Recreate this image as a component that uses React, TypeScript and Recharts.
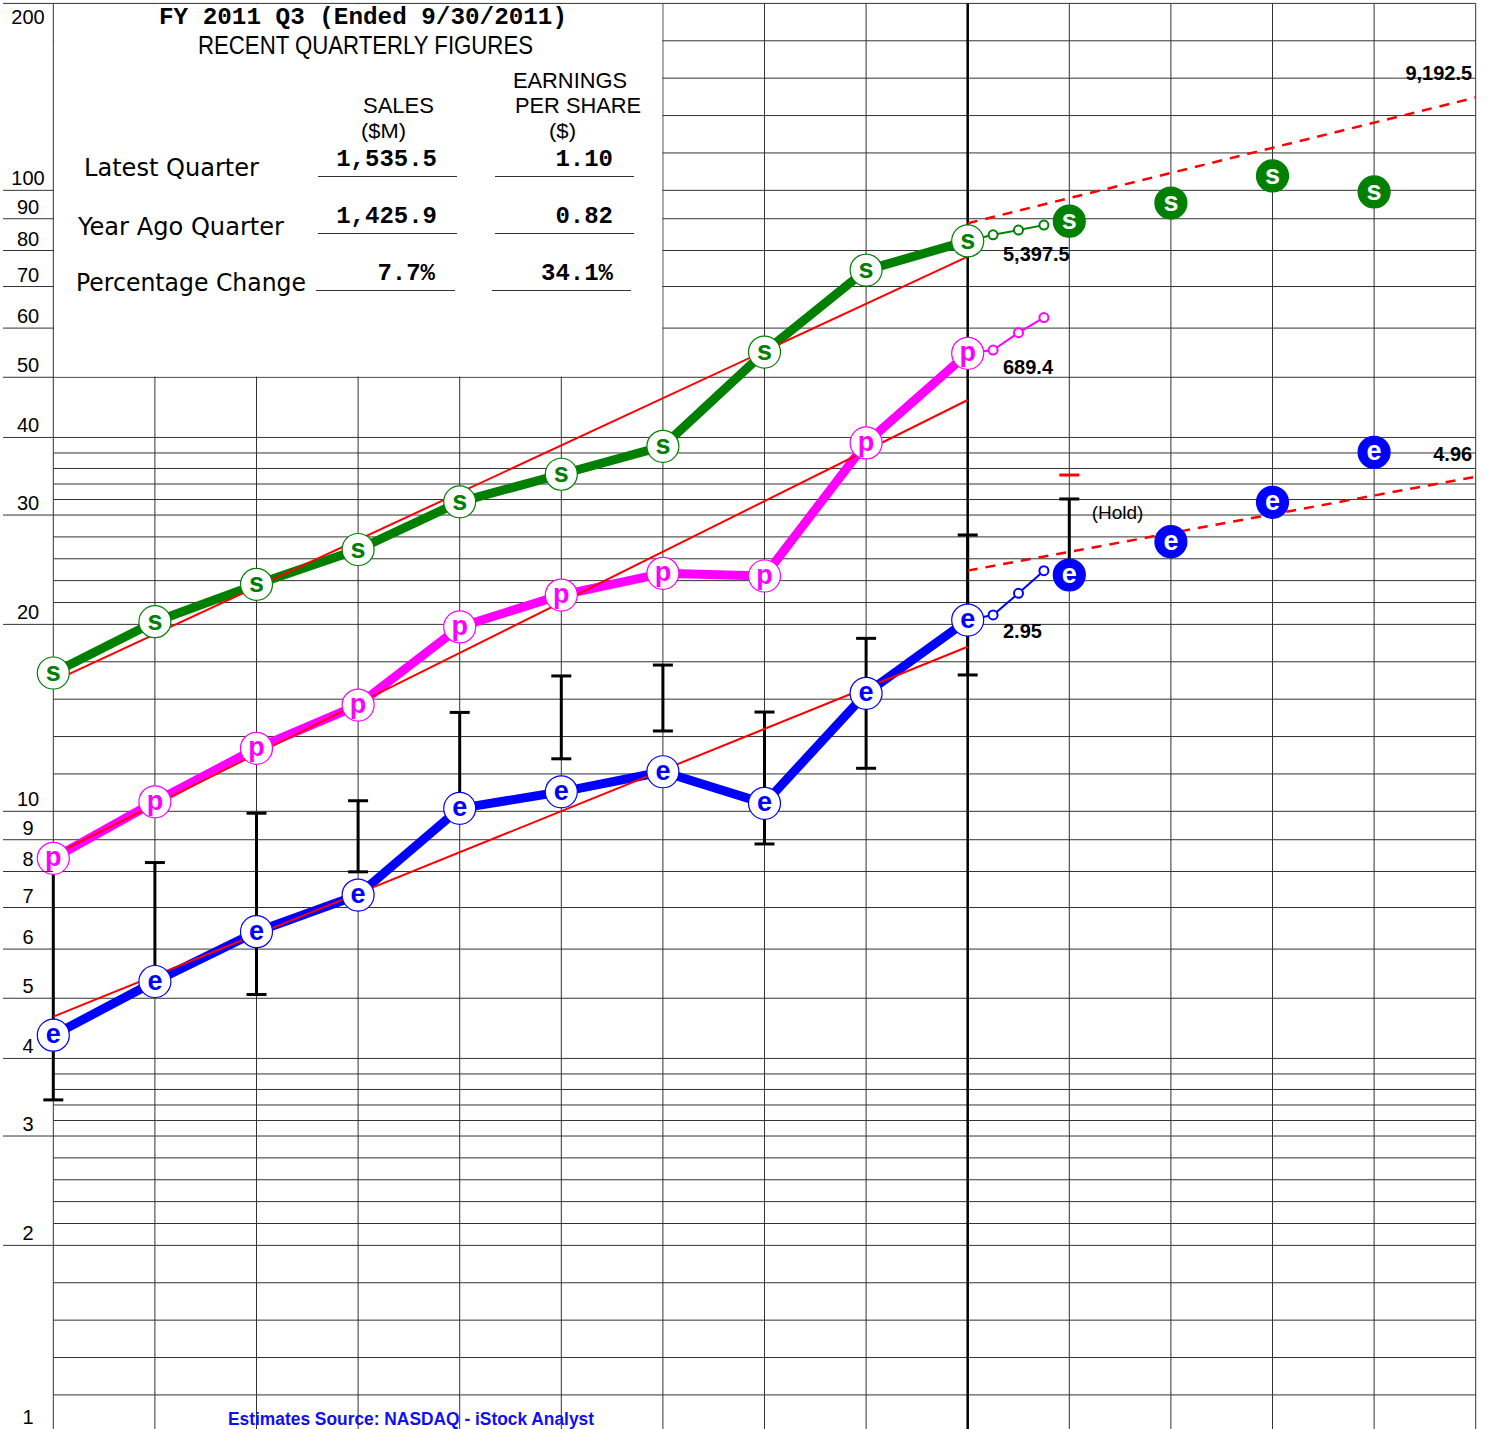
import React from 'react';
import { ComposedChart, Line, XAxis, YAxis, CartesianGrid, ErrorBar } from 'recharts';

// ---------- data ----------
const HIST_X = [0, 1, 2, 3, 4, 5, 6, 7, 8, 9];
const PROJ_X = [9, 9.25, 9.5, 9.75];
const FUT_X = [10, 11, 12, 13];
const EST_X = [0, 1, 2, 3, 4, 5, 6, 7, 8, 9, 10];

const salesHist = [16.7, 20.2, 23.2, 26.4, 31.5, 34.9, 38.7, 54.9, 74.4, 82.9];
const salesProj = [82.9, 84.8, 86.3, 87.9];
const salesFut = [89.2, 95.4, 105.5, 99.4];

const profitHist = [8.4, 10.36, 12.63, 14.83, 19.81, 22.3, 24.17, 23.93, 39.19, 54.64];
const profitProj = [54.64, 55.3, 59.0, 62.4];

const epsHist = [4.36, 5.32, 6.4, 7.33, 10.11, 10.75, 11.58, 10.3, 15.49, 20.32];
const epsProj = [20.32, 20.71, 22.44, 24.41];
const epsFut = [24.02, 27.18, 31.45, 37.85];

const estHigh = [8.4, 8.27, 9.93, 10.4, 14.43, 16.52, 17.2, 14.45, 18.99, 27.86, 31.84];
const estLow = [3.43, 5.32, 5.07, 7.99, 10.11, 12.15, 13.47, 8.86, 11.73, 16.58, 24.02];
const holdMark = [{ x: 10, y: 34.8 }];

const TREND_X = [0, 9];
const PROJ_TREND_X = [9, 14];
const salesTrend = [16.19, 78.2];
const salesTrendProj = [88.5, 141.1];
const profitTrend = [8.5, 45.96];
const epsTrend = [4.67, 18.41];
const epsTrendProj = [24.41, 34.58];

const Y_TICKS = [200, 100, 90, 80, 70, 60, 50, 40, 30, 20, 10, 9, 8, 7, 6, 5, 4, 3, 2, 1];
const GRID_BASE = [1, 1.1487, 1.3195, 1.5157, 1.7411, 2, 2.1689, 2.3522, 2.5509, 2.7663, 3, 3.1777, 3.3659, 3.5652, 3.7763, 4, 5, 6, 7, 8, 9];
const DECADES = [1, 10, 100];
const X_GRID = [0, 1, 2, 3, 4, 5, 6, 7, 8, 9, 10, 11, 12, 13, 14];

const ANNOTATIONS = [
  { x: 9.347, y: 79.0, text: '5,397.5', anchor: 'start', bold: true },
  { x: 9.347, y: 51.9, text: '689.4', anchor: 'start', bold: true },
  { x: 9.347, y: 19.5, text: '2.95', anchor: 'start', bold: true },
  { x: 10.22, y: 30.3, text: '(Hold)', anchor: 'start', bold: false },
  { x: 13.965, y: 154.5, text: '9,192.5', anchor: 'end', bold: true },
  { x: 13.965, y: 37.6, text: '4.96', anchor: 'end', bold: true },
];

// ---------- helpers ----------
const zipXY = (xs: number[], ys: number[]) => ys.map((y, i) => ({ x: xs[i], y }));
const GRID_VALUES = DECADES.flatMap((d) => GRID_BASE.map((b) => +(b * d).toFixed(4))).filter((v) => v <= 200);
const errData = EST_X.map((x, i) => ({ x, lo: estLow[i], err: [0, estHigh[i] - estLow[i]] }));
const vLine = [{ x: 9, y: 1 }, { x: 9, y: 200 }];

const GREEN = '#008000';
const PINK = '#ff00ff';
const BLUE = '#0000ff';
const RED = '#ff0000';
const SANS = "'Liberation Sans', Arial, Helvetica, sans-serif";
const NARROW = "'Liberation Sans Narrow', 'Liberation Sans', Arial, sans-serif";
const MONO = "'Liberation Mono', 'Courier New', monospace";
const HUMAN = "'DejaVu Sans', Verdana, sans-serif";

const W = 1501;
const H = 1436;

const YTick = (props: any) => {
  const { y, payload } = props;
  const v = payload.value;
  const ty = v === 200 ? y + 21 : v === 1 ? y - 8 : y - 5;
  return (
    <g>
      <line x1={3} x2={53.3} y1={y} y2={y} stroke="#333" strokeWidth={1} />
      <text x={28} y={ty} textAnchor="middle" fontSize={20} fontFamily={SANS} fill="#000">
        {String(v)}
      </text>
    </g>
  );
};

const marker = (letter: string, color: string, filled: boolean) => (props: any) => {
  const { cx, cy, index } = props;
  const key = `${letter}-${filled ? 'f' : 'o'}-${index}`;
  if (cx == null || cy == null) return <g key={key} />;
  return (
    <g key={key}>
      <circle cx={cx} cy={cy} r={16} fill={filled ? color : '#fff'} stroke={color} strokeWidth={1.2} />
      <text
        x={cx}
        y={cy + 8}
        textAnchor="middle"
        fontSize={27}
        fontWeight="bold"
        fontFamily={SANS}
        fill={filled ? '#fff' : color}
      >
        {letter}
      </text>
    </g>
  );
};

const smallDot = (color: string) => (props: any) => {
  const { cx, cy, index } = props;
  const key = `sd-${color}-${index}`;
  if (index === 0 || cx == null) return <g key={key} />;
  return <circle key={key} cx={cx} cy={cy} r={4.5} fill="#fff" stroke={color} strokeWidth={2} />;
};

const redCap = (props: any) => {
  const { cx, cy, index } = props;
  return <line key={`rc-${index}`} x1={cx - 10} x2={cx + 10} y1={cy} y2={cy} stroke={RED} strokeWidth={3} />;
};

const annot = (props: any) => {
  const { cx, cy, index, payload } = props;
  return (
    <text
      key={`an-${index}`}
      x={cx}
      y={cy}
      dominantBaseline="central"
      textAnchor={payload.anchor}
      fontSize={payload.bold ? 20 : 19}
      fontWeight={payload.bold ? 'bold' : 'normal'}
      fontFamily={SANS}
      fill="#000"
    >
      {payload.text}
    </text>
  );
};

const TableOverlay = () => (
  <svg width={W} height={1429} style={{ position: 'absolute', left: 0, top: 0, pointerEvents: 'none' }}>
    <rect x={54} y={4.2} width={608.3} height={372.3} fill="#fff" />
    <text x={363} y={24} textAnchor="middle" fontSize={24} fontWeight="bold" fontFamily={MONO} textLength={408} lengthAdjust="spacingAndGlyphs">
      FY 2011 Q3 (Ended 9/30/2011)
    </text>
    <text x={365.5} y={54} textAnchor="middle" fontSize={25} fontFamily={NARROW} textLength={335} lengthAdjust="spacingAndGlyphs">
      RECENT QUARTERLY FIGURES
    </text>
    <text x={570} y={88} textAnchor="middle" fontSize={22} fontFamily={NARROW} textLength={114} lengthAdjust="spacingAndGlyphs">
      EARNINGS
    </text>
    <text x={398.5} y={113} textAnchor="middle" fontSize={22} fontFamily={NARROW} textLength={71} lengthAdjust="spacingAndGlyphs">
      SALES
    </text>
    <text x={578} y={113} textAnchor="middle" fontSize={22} fontFamily={NARROW} textLength={126} lengthAdjust="spacingAndGlyphs">
      PER SHARE
    </text>
    <text x={383.5} y={138} textAnchor="middle" fontSize={21} fontFamily={NARROW} textLength={45} lengthAdjust="spacingAndGlyphs">
      ($M)
    </text>
    <text x={562.5} y={138} textAnchor="middle" fontSize={21} fontFamily={NARROW} textLength={27} lengthAdjust="spacingAndGlyphs">
      ($)
    </text>

    <text x={84} y={176} fontSize={24} fontFamily={HUMAN} textLength={175} lengthAdjust="spacingAndGlyphs">Latest Quarter</text>
    <text x={78} y={235} fontSize={24} fontFamily={HUMAN} textLength={206} lengthAdjust="spacingAndGlyphs">Year Ago Quarter</text>
    <text x={76} y={291} fontSize={24} fontFamily={HUMAN} textLength={230} lengthAdjust="spacingAndGlyphs">Percentage Change</text>

    <text x={437} y={166} textAnchor="end" fontSize={24} fontWeight="bold" fontFamily={MONO}>1,535.5</text>
    <text x={613} y={166} textAnchor="end" fontSize={24} fontWeight="bold" fontFamily={MONO}>1.10</text>
    <text x={437} y={223} textAnchor="end" fontSize={24} fontWeight="bold" fontFamily={MONO}>1,425.9</text>
    <text x={613} y={223} textAnchor="end" fontSize={24} fontWeight="bold" fontFamily={MONO}>0.82</text>
    <text x={435} y={280} textAnchor="end" fontSize={24} fontWeight="bold" fontFamily={MONO}>7.7%</text>
    <text x={613} y={280} textAnchor="end" fontSize={24} fontWeight="bold" fontFamily={MONO}>34.1%</text>

    <g stroke="#333" strokeWidth={1.2}>
      <line x1={318} x2={457} y1={176.5} y2={176.5} />
      <line x1={495} x2={634} y1={176.5} y2={176.5} />
      <line x1={318} x2={457} y1={233.5} y2={233.5} />
      <line x1={495} x2={634} y1={233.5} y2={233.5} />
      <line x1={316} x2={455} y1={290.5} y2={290.5} />
      <line x1={492} x2={631} y1={290.5} y2={290.5} />
    </g>

    <text x={228} y={1425} fontSize={18} fontWeight="bold" fontFamily={SANS} fill="#1010ee" textLength={366} lengthAdjust="spacingAndGlyphs">
      Estimates Source: NASDAQ - iStock Analyst
    </text>
  </svg>
);

export default function App() {
  return (
    <div style={{ position: 'absolute', left: 0, top: 0, width: W, height: 1429, overflow: 'hidden', background: '#fff' }}>
      <ComposedChart width={W} height={H} margin={{ top: 3.4, right: 25.3, bottom: 3.7, left: 0 }}>
        <XAxis type="number" dataKey="x" domain={[0, 14]} hide />
        <YAxis
          type="number"
          scale="log"
          domain={[1, 200]}
          ticks={Y_TICKS}
          interval={0}
          width={53.3}
          tick={<YTick />}
          tickLine={false}
          axisLine={false}
        />
        <CartesianGrid horizontalValues={GRID_VALUES} verticalValues={X_GRID} stroke="#333" strokeWidth={1} />

        <Line data={vLine} dataKey="y" stroke="#000" strokeWidth={2.5} dot={false} isAnimationActive={false} />

        <Line data={errData} dataKey="lo" stroke="none" dot={false} isAnimationActive={false}>
          <ErrorBar dataKey="err" width={10} strokeWidth={3} stroke="#000" direction="y" />
        </Line>
        <Line data={holdMark} dataKey="y" stroke="none" dot={redCap} isAnimationActive={false} />

        <Line data={zipXY(HIST_X, salesHist)} dataKey="y" stroke={GREEN} strokeWidth={9} dot={false} isAnimationActive={false} strokeLinejoin="round" />
        <Line data={zipXY(HIST_X, profitHist)} dataKey="y" stroke={PINK} strokeWidth={9} dot={false} isAnimationActive={false} strokeLinejoin="round" />
        <Line data={zipXY(HIST_X, epsHist)} dataKey="y" stroke={BLUE} strokeWidth={9} dot={false} isAnimationActive={false} strokeLinejoin="round" />

        <Line data={zipXY(PROJ_X, salesProj)} dataKey="y" stroke={GREEN} strokeWidth={2} dot={smallDot(GREEN)} isAnimationActive={false} />
        <Line data={zipXY(PROJ_X, profitProj)} dataKey="y" stroke={PINK} strokeWidth={2} dot={smallDot(PINK)} isAnimationActive={false} />
        <Line data={zipXY(PROJ_X, epsProj)} dataKey="y" stroke={BLUE} strokeWidth={2} dot={smallDot(BLUE)} isAnimationActive={false} />

        <Line data={zipXY(TREND_X, salesTrend)} dataKey="y" stroke={RED} strokeWidth={2} dot={false} isAnimationActive={false} />
        <Line data={zipXY(TREND_X, profitTrend)} dataKey="y" stroke={RED} strokeWidth={2} dot={false} isAnimationActive={false} />
        <Line data={zipXY(TREND_X, epsTrend)} dataKey="y" stroke={RED} strokeWidth={2} dot={false} isAnimationActive={false} />
        <Line data={zipXY(PROJ_TREND_X, salesTrendProj)} dataKey="y" stroke={RED} strokeWidth={2.5} strokeDasharray="10 8" dot={false} isAnimationActive={false} />
        <Line data={zipXY(PROJ_TREND_X, epsTrendProj)} dataKey="y" stroke={RED} strokeWidth={2.5} strokeDasharray="10 8" dot={false} isAnimationActive={false} />

        <Line data={zipXY(HIST_X, salesHist)} dataKey="y" stroke="none" dot={marker('s', GREEN, false)} isAnimationActive={false} />
        <Line data={zipXY(HIST_X, profitHist)} dataKey="y" stroke="none" dot={marker('p', PINK, false)} isAnimationActive={false} />
        <Line data={zipXY(HIST_X, epsHist)} dataKey="y" stroke="none" dot={marker('e', BLUE, false)} isAnimationActive={false} />
        <Line data={zipXY(FUT_X, salesFut)} dataKey="y" stroke="none" dot={marker('s', GREEN, true)} isAnimationActive={false} />
        <Line data={zipXY(FUT_X, epsFut)} dataKey="y" stroke="none" dot={marker('e', BLUE, true)} isAnimationActive={false} />

        <Line data={ANNOTATIONS} dataKey="y" stroke="none" dot={annot} isAnimationActive={false} />
      </ComposedChart>
      <TableOverlay />
    </div>
  );
}
